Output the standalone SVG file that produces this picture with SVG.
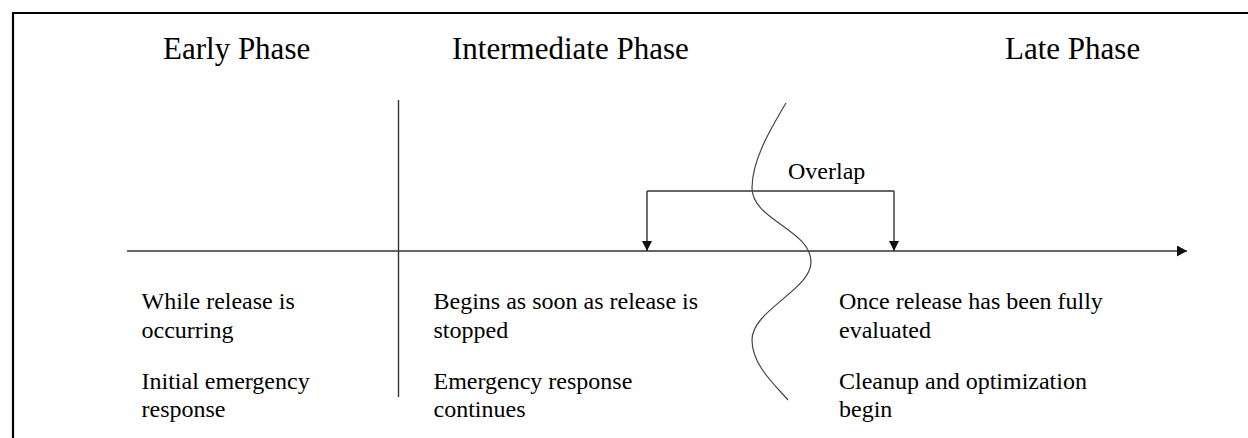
<svg xmlns="http://www.w3.org/2000/svg" width="1248" height="438" viewBox="0 0 1248 438">
  <style>
    .head { font-family: "Liberation Serif", "Times New Roman", serif; font-size: 31px; fill: #000; }
    .body { font-family: "Liberation Serif", "Times New Roman", serif; font-size: 24px; fill: #000; }
    .ln { stroke: #333; stroke-width: 1.4; fill: none; }
  </style>
  <defs>
    <marker id="ah" viewBox="0 0 10 10" refX="10" refY="5" markerWidth="10" markerHeight="10" markerUnits="userSpaceOnUse" orient="auto">
      <path d="M0,0 L10,5 L0,10 Z" fill="#111"/>
    </marker>
    <marker id="ahBig" viewBox="0 0 10 11" refX="10" refY="5.5" markerWidth="10" markerHeight="11" markerUnits="userSpaceOnUse" orient="auto">
      <path d="M0,0 L10,5.5 L0,11 Z" fill="#111"/>
    </marker>
  </defs>
  <rect width="1248" height="438" fill="#fff"/>
  <g id="frame">
    <path d="M13,438 L13,13 L1248,13" stroke="#000" stroke-width="2.2" fill="none"/>
  </g>
  <g id="connectors">
    <line id="axis" class="ln" x1="127" y1="251" x2="1187" y2="251" marker-end="url(#ahBig)"/>
    <line id="divider" class="ln" x1="398.5" y1="100" x2="398.5" y2="397"/>
    <path id="overlap-bracket" class="ln" d="M647,191 L894,191"/>
    <path id="overlap-left" class="ln" d="M647,191 L647,251" marker-end="url(#ah)"/>
    <path id="overlap-right" class="ln" d="M894,191 L894,251" marker-end="url(#ah)"/>
    <path id="wave" d="M786,103 C770,130 752,160 752,188 C752,220 811,230 811,262 C811,290 752,310 752,340 C752,365 775,385 788,400" stroke="#444" stroke-width="1.2" fill="none"/>
  </g>
  <g id="early-phase">
    <text class="head" x="163" y="58.5">Early Phase</text>
    <text class="body" x="141.5" y="309">While release is</text>
    <text class="body" x="141.5" y="338">occurring</text>
    <text class="body" x="141.5" y="389">Initial emergency</text>
    <text class="body" x="141.5" y="417">response</text>
  </g>
  <g id="intermediate-phase">
    <text class="head" x="452" y="58.5">Intermediate Phase</text>
    <text class="body" x="433.5" y="309">Begins as soon as release is</text>
    <text class="body" x="433.5" y="338">stopped</text>
    <text class="body" x="433.5" y="389">Emergency response</text>
    <text class="body" x="433.5" y="417">continues</text>
  </g>
  <g id="late-phase">
    <text class="head" x="1005" y="58.5">Late Phase</text>
    <text class="body" x="839" y="309">Once release has been fully</text>
    <text class="body" x="839" y="338">evaluated</text>
    <text class="body" x="839" y="389">Cleanup and optimization</text>
    <text class="body" x="839" y="417">begin</text>
  </g>
  <g id="overlap">
    <text class="body" x="788" y="178.5">Overlap</text>
  </g>
</svg>
